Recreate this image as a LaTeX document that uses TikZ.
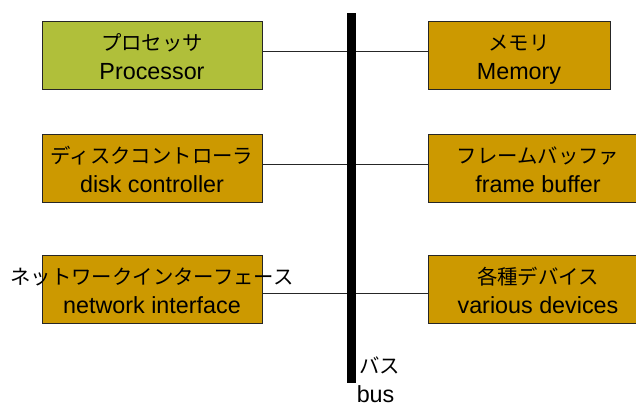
\documentclass[tikz,border=0pt]{standalone}
\usepackage{fontspec}
\setmainfont{Liberation Sans}
\newfontfamily\jp{Noto Sans CJK JP}
\definecolor{gold}{RGB}{204,153,0}
\definecolor{leaf}{RGB}{176,191,58}
\begin{document}
\begin{tikzpicture}[x=0.75pt,y=-0.75pt,
  unit/.style={draw=black!85, line width=0.75pt, fill=gold, minimum height=51pt,
               inner sep=0pt, anchor=north west},
  jatext/.style={font=\jp\fontsize{15.3}{18}\selectfont, anchor=base, inner sep=0pt},
  entext/.style={font=\fontsize{17.5}{21}\selectfont, anchor=base, inner sep=0pt},
  wire/.style={line width=0.75pt, draw=black!85}]
\useasboundingbox (0,0) rectangle (636,405);

% connector heights
\coordinate (w1) at (0,51);
\coordinate (w2) at (0,164);
\coordinate (w3) at (0,293);

% units on the left
\node[unit, fill=leaf, minimum width=165pt] (proc) at (42,21) {};
\node[unit, minimum width=165pt] (disk) at (42,134) {};
\node[unit, minimum width=165pt] (net)  at (42,255) {};

% units on the right
\node[unit, minimum width=136.5pt] (mem) at (428,21) {};
\node[unit, minimum width=165pt] (fb)  at (428,134) {};
\node[unit, minimum width=165pt] (dev) at (428,255) {};

% connectors to the bus
\draw[wire] (proc.east |- w1) -- (mem.west |- w1);
\draw[wire] (disk.east |- w2) -- (fb.west |- w2);
\draw[wire] (net.east |- w3) -- (dev.west |- w3);

% the bus
\node[fill=black, inner sep=0pt, minimum width=6.75pt, minimum height=277.5pt,
      anchor=north] (bus) at (351.5,13) {};
\node[jatext, anchor=base west] (busja) at (359,373.5) {バス};
\node[entext, anchor=base west] (busen) at (356.5,402) {bus};

% labels
\node[jatext] (procja) at (152,50.5) {プロセッサ};
\node[entext] (procen) at (152,79) {Processor};
\node[jatext] (diskja) at (152,163.5) {ディスクコントローラ};
\node[entext] (disken) at (152,192.5) {disk controller};
\node[jatext] (netja) at (152,284.5) {ネットワークインターフェース};
\node[entext] (neten) at (152,313) {network interface};

\node[jatext] (memja) at (519,50.5) {メモリ};
\node[entext] (memen) at (519,79) {Memory};
\node[jatext] (fbja) at (538,163.5) {フレームバッファ};
\node[entext] (fben) at (538,192.5) {frame buffer};
\node[jatext] (devja) at (538,284.5) {各種デバイス};
\node[entext] (deven) at (538,313) {various devices};
\end{tikzpicture}
\end{document}
